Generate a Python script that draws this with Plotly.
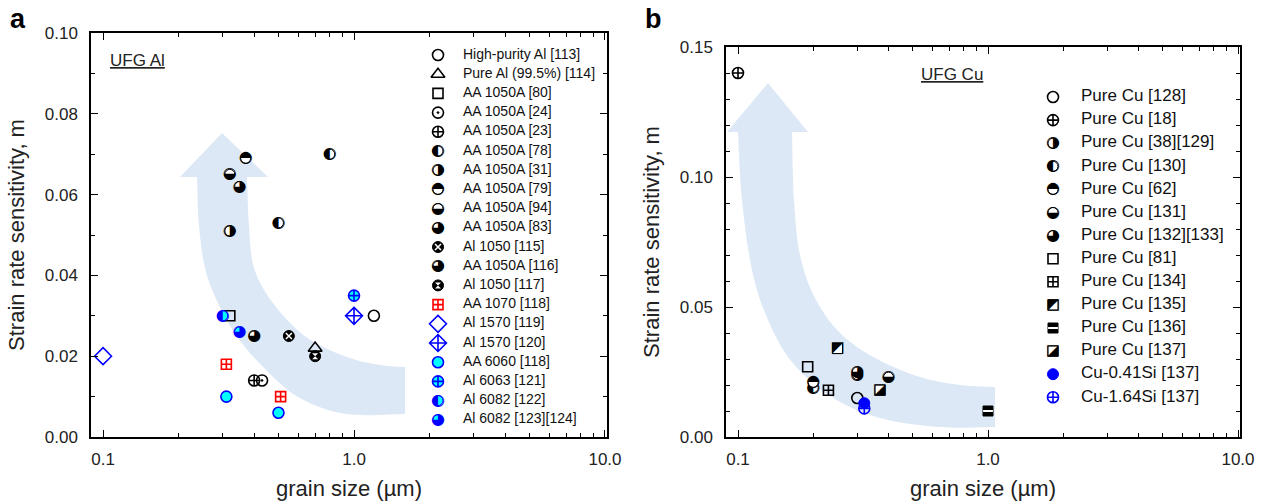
import plotly.graph_objects as go

# ---------------- data (panel a: UFG Al) ----------------
al_names = ["High-purity Al [113]", "Pure Al (99.5%) [114]", "AA 1050A [80]", "AA 1050A [24]",
            "AA 1050A [23]", "AA 1050A [78]", "AA 1050A [31]", "AA 1050A [79]", "AA 1050A [94]",
            "AA 1050A [83]", "Al 1050 [115]", "AA 1050A [116]", "Al 1050 [117]", "AA 1070 [118]",
            "Al 1570 [119]", "Al 1570 [120]", "AA 6060 [118]", "Al 6063 [121]", "Al 6082 [122]",
            "Al 6082 [123][124]"]
al_x = [[1.2], [0.70], [0.32], [0.43], [0.40], [0.80, 0.50], [0.32], [0.37], [0.32], [0.35],
        [0.55], [0.40], [0.70], [0.31, 0.51], [0.10], [1.0], [0.31, 0.50], [1.0], [0.30], [0.35]]
al_y = [[0.030], [0.022], [0.030], [0.014], [0.014], [0.070, 0.053], [0.051], [0.069], [0.065], [0.062],
        [0.025], [0.025], [0.020], [0.018, 0.010], [0.020], [0.030], [0.010, 0.006], [0.035], [0.030], [0.026]]

# ---------------- data (panel b: UFG Cu) ----------------
cu_names = ["Pure Cu [128]", "Pure Cu [18]", "Pure Cu [38][129]", "Pure Cu [130]", "Pure Cu [62]",
            "Pure Cu [131]", "Pure Cu [132][133]", "Pure Cu [81]", "Pure Cu [134]", "Pure Cu [135]",
            "Pure Cu [136]", "Pure Cu [137]", "Cu-0.41Si [137]", "Cu-1.64Si [137]"]
cu_x = [[0.30], [0.10], [0.30], [0.20], [0.20], [0.40], [0.30], [0.19], [0.23], [0.25],
        [1.0], [0.37], [0.32], [0.32]]
cu_y = [[0.015], [0.140], [0.024], [0.019], [0.021], [0.023], [0.025], [0.027], [0.018], [0.034],
        [0.010], [0.018], [0.013], [0.011]]

x_tickvals = [0.1, 1, 10]
x_ticktext = ["0.1", "1.0", "10.0"]
x_minor = [0.2, 0.3, 0.4, 0.5, 0.6, 0.7, 0.8, 0.9, 2, 3, 4, 5, 6, 7, 8, 9]

# ---------------- styles ----------------
def M(symbol, size, color, line=None, lw=1.6):
    return ("m", symbol, size, color, line if line else color, lw)

def T(ch, size, color="black"):
    return ("t", ch, size, color)

WH = "white"
al_styles = [
    [M("circle-open", 11, "black")],
    [M("triangle-up-open", 12, "black")],
    [M("square-open", 10, "black")],
    [M("circle-open-dot", 11, "black")],
    [M("circle-cross-open", 11, "black")],
    [M("circle", 10, WH, "black", 1), T("◐", 16)],
    [M("circle", 10, WH, "black", 1), T("◑", 16)],
    [M("circle", 10, WH, "black", 1), T("◓", 16)],
    [M("circle", 10, WH, "black", 1), T("◒", 16)],
    [M("circle", 10, WH, "black", 1), T("◕", 16)],
    [M("circle", 11, "black", "black", 1), M("x-thin", 6, WH, WH, 1.5)],
    [M("circle", 10, WH, "black", 1), T("◕", 16)],
    [M("circle", 11, "black", "black", 1), M("hourglass", 6, WH, WH, 0)],
    [M("square-cross-open", 10, "red")],
    [M("diamond-open", 13, "blue")],
    [M("diamond-cross-open", 13, "blue")],
    [M("circle", 11, "cyan", "blue", 1.6)],
    [M("circle-cross", 11, "cyan", "blue", 1.6)],
    [M("circle", 10, "cyan", "blue", 1), T("◐", 16, "blue")],
    [M("circle", 10, "cyan", "blue", 1), T("◕", 16, "blue")],
]
cu_styles = [
    [M("circle-open", 11, "black")],
    [M("circle-cross-open", 11, "black")],
    [M("circle", 10, WH, "black", 1), T("◑", 16)],
    [M("circle", 10, WH, "black", 1), T("◐", 16)],
    [M("circle", 10, WH, "black", 1), T("◓", 16)],
    [M("circle", 10, WH, "black", 1), T("◒", 16)],
    [M("circle", 10, WH, "black", 1), T("◕", 16)],
    [M("square-open", 10, "black")],
    [M("square-cross-open", 10, "black")],
    [M("square", 10, WH, "black", 1), T("◩", 15)],
    [M("square", 10, "black", "black", 1), M("line-ew", 7, WH, WH, 2)],
    [M("square", 10, WH, "black", 1), T("◪", 15)],
    [M("circle", 11, "blue", "blue", 1)],
    [M("circle-cross-open", 11, "blue")],
]

# ---------------- geometry ----------------
W, H = 1264, 503
L, R, T_, B = 91, 24, 33, 66
PW, PH = W - L - R, H - T_ - B


def pxx(x):
    return (x - L) / PW


def pxy(y):
    return (H - B - y) / PH


A_X = [pxx(91), pxx(607)]
B_X = [pxx(726), pxx(1240)]
B_Ytop = pxy(47)

fig = go.Figure()


def add_layers(xs, ys, layers, xa, ya):
    for lay in layers:
        if lay[0] == "m":
            _, sym, size, color, lc, lw = lay
            fig.add_trace(go.Scatter(x=xs, y=ys, mode="markers", xaxis=xa, yaxis=ya, showlegend=False,
                                     hoverinfo="skip", cliponaxis=False,
                                     marker=dict(symbol=sym, size=size, color=color,
                                                 line=dict(color=lc, width=lw))))
        else:
            _, ch, size, color = lay
            fig.add_trace(go.Scatter(x=xs, y=ys, mode="text", xaxis=xa, yaxis=ya, showlegend=False,
                                     hoverinfo="skip", cliponaxis=False, text=[ch] * len(xs),
                                     textposition="middle center",
                                     textfont=dict(family="DejaVu Sans", size=size, color=color)))


# data
for xs, ys, st in zip(al_x, al_y, al_styles):
    add_layers(xs, ys, st, "x", "y")
for xs, ys, st in zip(cu_x, cu_y, cu_styles):
    add_layers(xs, ys, st, "x2", "y2")

# legends (on pixel-coordinate helper axes)
LEG_A = dict(sx=438, tx=463, y0=55, dy=19.2, fs=14)
LEG_B = dict(sx=1053, tx=1081, y0=97, dy=23.1, fs=17)
for names, styles, lg, xa, ya in [(al_names, al_styles, LEG_A, "x3", "y3"),
                                  (cu_names, cu_styles, LEG_B, "x4", "y4")]:
    ys_leg = [lg["y0"] + i * lg["dy"] for i in range(len(names))]
    for yv, st in zip(ys_leg, styles):
        add_layers([lg["sx"]], [yv], st, xa, ya)
    fig.add_trace(go.Scatter(x=[lg["tx"]] * len(names), y=ys_leg, mode="text", text=names,
                             textposition="middle right", xaxis=xa, yaxis=ya, showlegend=False,
                             hoverinfo="skip", cliponaxis=False,
                             textfont=dict(family="Liberation Sans", size=lg["fs"], color="#111")))

# ---------------- arrows ----------------
def smooth_path(pts):
    s = ""
    for i in range(len(pts) - 1):
        p0 = pts[i - 1] if i > 0 else pts[i]
        p1, p2 = pts[i], pts[i + 1]
        p3 = pts[i + 2] if i + 2 < len(pts) else pts[i + 1]
        c1 = (p1[0] + (p2[0] - p0[0]) / 6, p1[1] + (p2[1] - p0[1]) / 6)
        c2 = (p2[0] - (p3[0] - p1[0]) / 6, p2[1] - (p3[1] - p1[1]) / 6)
        s += " C %.5f,%.5f %.5f,%.5f %.5f,%.5f" % (pxx(c1[0]), pxy(c1[1]), pxx(c2[0]), pxy(c2[1]),
                                                   pxx(p2[0]), pxy(p2[1]))
    return s


def arrow_path(outer, inner, head):
    p = "M %.5f,%.5f" % (pxx(outer[0][0]), pxy(outer[0][1]))
    p += smooth_path(outer)
    for hx, hy in head:
        p += " L %.5f,%.5f" % (pxx(hx), pxy(hy))
    p += " L %.5f,%.5f" % (pxx(inner[0][0]), pxy(inner[0][1]))
    p += smooth_path(inner)
    p += " Z"
    return p


ARROW = "rgba(220,232,245,1)"
a_outer = [(405, 414), (346, 414), (300, 398), (267, 371), (238, 338), (218, 303), (205, 268),
           (199, 225), (197, 177)]
a_head = [(180, 177), (222, 133), (268, 177)]
a_inner = [(247, 177), (249, 225), (254, 268), (273, 303), (306, 337), (347, 357), (380, 365), (405, 367)]
b_outer = [(995, 427), (940, 427), (880, 418), (830, 396), (792, 362), (768, 320), (752, 270),
           (742, 200), (738, 132)]
b_head = [(727, 132), (768, 83), (808, 132)]
b_inner = [(792, 132), (794, 200), (800, 255), (815, 298), (840, 333), (875, 358), (920, 377),
           (960, 385), (995, 387)]
shapes = [
    dict(type="path", xref="paper", yref="paper", path=arrow_path(a_outer, a_inner, a_head),
         fillcolor=ARROW, line=dict(width=0), layer="below"),
    dict(type="path", xref="paper", yref="paper", path=arrow_path(b_outer, b_inner, b_head),
         fillcolor=ARROW, line=dict(width=0), layer="below"),
]

# ---------------- axes ----------------
TICKF = dict(family="Liberation Sans", size=17, color="#222")
TITLEF = dict(family="Liberation Sans", size=22, color="#222")


def xaxis(domain):
    return dict(domain=domain, type="log", range=[-1.048, 1.008], tickvals=x_tickvals,
                ticktext=x_ticktext, ticks="inside", ticklen=7, tickwidth=1.3, tickcolor="black",
                showline=True, linecolor="black", linewidth=1.5, mirror="ticks", showgrid=False,
                zeroline=False, tickfont=TICKF, ticklabelstandoff=6,
                minor=dict(tickvals=x_minor, ticks="inside", ticklen=4, tickwidth=1.2,
                           tickcolor="black", showgrid=False),
                title=dict(text="grain size (\u00b5m)", font=TITLEF, standoff=12))


def yaxis(domain, rng, dtick, minor, fmt):
    return dict(domain=domain, range=rng, dtick=dtick, tick0=0, tickformat=fmt, ticks="inside",
                ticklen=7, tickwidth=1.3, tickcolor="black", showline=True, linecolor="black",
                linewidth=1.5, mirror="ticks", showgrid=False, zeroline=False, tickfont=TICKF,
                ticklabelstandoff=8,
                minor=dict(dtick=minor, tick0=0, ticks="inside", ticklen=4, tickwidth=1.2,
                           tickcolor="black", showgrid=False),
                title=dict(text="Strain rate sensitivity, m", font=TITLEF, standoff=14))


def label(text, x, y, size, xanchor="center", bold=False):
    return dict(text=text, x=pxx(x), y=pxy(y), xref="paper", yref="paper", xanchor=xanchor,
                yanchor="middle", showarrow=False,
                font=dict(family="Liberation Sans", size=size, color="black" if bold else "#222"))


fig.update_layout(
    width=W, height=H, margin=dict(l=L, r=R, t=T_, b=B, autoexpand=False),
    paper_bgcolor="white", plot_bgcolor="rgba(0,0,0,0)", showlegend=False,
    xaxis=xaxis(A_X), yaxis=yaxis([0, 1], [0, 0.1], 0.02, 0.01, ".2f"),
    xaxis2=dict(xaxis(B_X), anchor="y2"),
    yaxis2=dict(yaxis([0, B_Ytop], [0, 0.15], 0.05, 0.01, ".2f"), anchor="x2"),
    xaxis3=dict(domain=A_X, range=[91, 607], visible=False, anchor="y3", overlaying="x"),
    yaxis3=dict(domain=[0, 1], range=[437, 33], visible=False, anchor="x3", overlaying="y"),
    xaxis4=dict(domain=B_X, range=[726, 1240], visible=False, anchor="y4", overlaying="x2"),
    yaxis4=dict(domain=[0, B_Ytop], range=[437, 47], visible=False, anchor="x4", overlaying="y2"),
    shapes=shapes,
    annotations=[
        label("<b>a</b>", 18, 19, 27, bold=True),
        label("<b>b</b>", 653, 19, 27, bold=True),
        label("<u>UFG Al</u>", 108, 61, 17, xanchor="left"),
        label("<u>UFG Cu</u>", 919, 74, 17, xanchor="left"),
    ],
)

fig.write_html("out.html")
